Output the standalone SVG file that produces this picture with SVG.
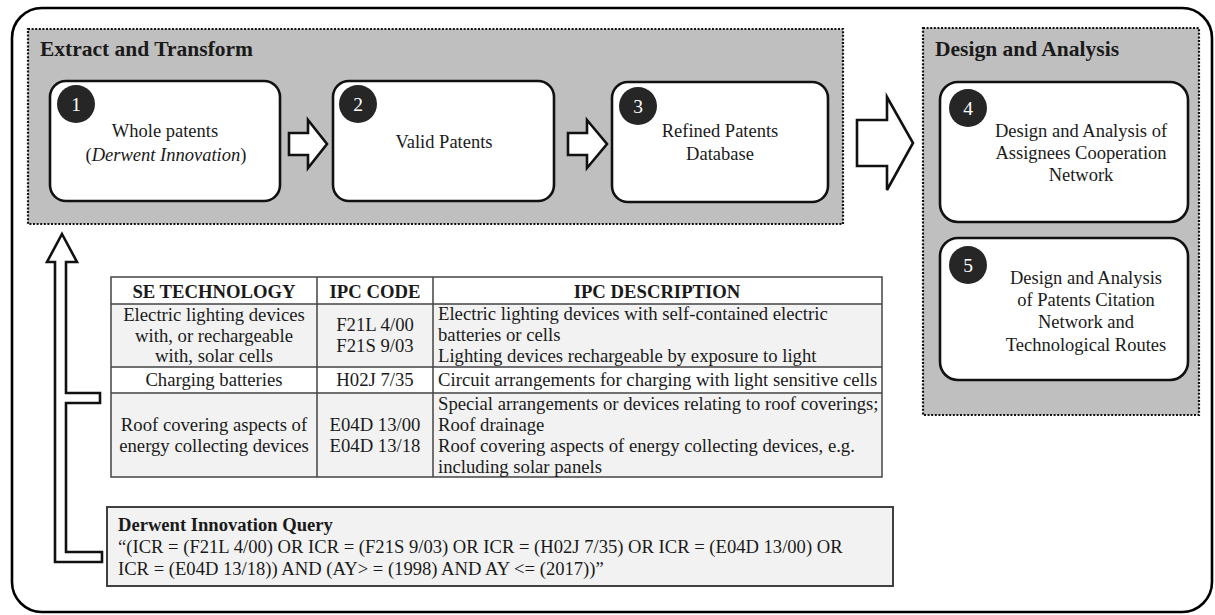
<svg xmlns="http://www.w3.org/2000/svg" width="1215" height="615" viewBox="0 0 1215 615">
<defs>
<style>
text{font-family:"Liberation Serif","Times New Roman",serif;fill:#1a1a1a}
.t{font-size:18.5px;text-anchor:middle}
.b{font-weight:bold}
.h{font-size:21.5px;font-weight:bold}
.grp{fill:#bfbfbf;stroke:#111;stroke-width:2.2;stroke-dasharray:2 1.6}
.box{fill:#fff;stroke:#111;stroke-width:2.6}
.num{fill:#262626}
.nt{font-size:19.5px;text-anchor:middle;fill:#fff}
.arr{fill:#fff;stroke:#111;stroke-width:2.6;stroke-linejoin:miter}
.tb{font-size:18.7px}
.c{text-anchor:middle}
.cell{stroke:none}
.tl{stroke:#444;stroke-width:1.5;fill:none}
.q{font-size:18.6px}
</style>
</defs>
<rect x="12" y="8" width="1200" height="604" rx="30" fill="#fff" stroke="#000" stroke-width="2.6"/>

<g id="extract-transform">
<rect class="grp" x="28" y="29" width="815" height="195"/>
<text class="h" x="40" y="56">Extract and Transform</text>
</g>

<g id="design-analysis">
<rect class="grp" x="923" y="28" width="276" height="387"/>
<text class="h" x="935" y="56">Design and Analysis</text>
</g>

<g id="node1">
<rect class="box" x="50" y="81" width="230" height="120" rx="16"/>
<circle class="num" cx="76" cy="104" r="19"/>
<text class="nt" x="76" y="111">1</text>
<text class="t" x="165" y="137">Whole  patents</text>
<text class="t" x="166" y="161">(<tspan font-style="italic">Derwent Innovation</tspan>)</text>
</g>

<g id="node2">
<rect class="box" x="333" y="81" width="221" height="120" rx="16"/>
<circle class="num" cx="358" cy="104" r="19"/>
<text class="nt" x="358" y="111">2</text>
<text class="t" x="444" y="148">Valid Patents</text>
</g>

<g id="node3">
<rect class="box" x="612" y="82" width="216" height="120" rx="16"/>
<circle class="num" cx="638" cy="106" r="19"/>
<text class="nt" x="638" y="113">3</text>
<text class="t" x="720" y="137">Refined Patents</text>
<text class="t" x="720" y="160">Database</text>
</g>

<g id="node4">
<rect class="box" x="940" y="82" width="248" height="140" rx="18"/>
<circle class="num" cx="968" cy="108" r="19"/>
<text class="nt" x="968" y="115">4</text>
<text class="t" x="1081" y="137">Design and Analysis of</text>
<text class="t" x="1081" y="159">Assignees Cooperation</text>
<text class="t" x="1081" y="181">Network</text>
</g>

<g id="node5">
<rect class="box" x="940" y="238" width="248" height="142" rx="18"/>
<circle class="num" cx="968" cy="265" r="19"/>
<text class="nt" x="968" y="272">5</text>
<text class="t" x="1086" y="284">Design and Analysis</text>
<text class="t" x="1086" y="306">of Patents Citation</text>
<text class="t" x="1086" y="328">Network and</text>
<text class="t" x="1086" y="351">Technological  Routes</text>
</g>

<g id="ipc-table">
<rect class="cell" x="111" y="277" width="771" height="27" fill="#fff"/>
<rect class="cell" x="111" y="304" width="771" height="63" fill="#f2f2f2"/>
<rect class="cell" x="111" y="367" width="771" height="26" fill="#fff"/>
<rect class="cell" x="111" y="393" width="771" height="84" fill="#f2f2f2"/>
<rect class="tl" x="111" y="277" width="771" height="200"/>
<path class="tl" d="M111 304H882M111 367H882M111 393H882M317 277V477M433 277V477"/>
<g class="tb">
<text class="c b" x="214" y="298">SE TECHNOLOGY</text>
<text class="c b" x="375" y="298">IPC CODE</text>
<text class="c b" x="657" y="298">IPC DESCRIPTION</text>
<text class="c" x="214" y="321">Electric lighting devices</text>
<text class="c" x="214" y="342">with, or rechargeable</text>
<text class="c" x="214" y="362">with, solar cells</text>
<text class="c" x="375" y="331">F21L 4/00</text>
<text class="c" x="375" y="352">F21S 9/03</text>
<text x="438" y="320">Electric lighting devices with self-contained electric</text>
<text x="438" y="341">batteries or cells</text>
<text x="438" y="362">Lighting devices rechargeable by exposure to light</text>
<text class="c" x="214" y="386">Charging batteries</text>
<text class="c" x="375" y="386">H02J 7/35</text>
<text x="438" y="386">Circuit arrangements for charging with light sensitive cells</text>
<text class="c" x="214" y="431">Roof covering aspects of</text>
<text class="c" x="214" y="452">energy collecting devices</text>
<text class="c" x="375" y="431">E04D 13/00</text>
<text class="c" x="375" y="452">E04D 13/18</text>
<text x="438" y="410">Special arrangements or devices relating to roof coverings;</text>
<text x="438" y="431">Roof drainage</text>
<text x="438" y="452">Roof covering aspects of energy collecting devices, e.g.</text>
<text x="438" y="473">including solar panels</text>
</g>
</g>

<g id="query">
<rect x="107" y="507" width="786" height="79" fill="#f2f2f2" stroke="#404040" stroke-width="2"/>
<text class="q b" x="118" y="531">Derwent Innovation Query</text>
<text class="q" x="118" y="553">“(ICR = (F21L 4/00) OR ICR = (F21S 9/03) OR ICR = (H02J 7/35) OR ICR = (E04D 13/00) OR</text>
<text class="q" x="118" y="575">ICR = (E04D 13/18)) AND (AY&gt; = (1998) AND AY &lt;= (2017))”</text>
</g>

<g id="connectors">
<polygon class="arr" points="289,133 308,133 308,120 327,144 308,168 308,155 289,155"/>
<polygon class="arr" points="568,133 587,133 587,120 607,144 587,168 587,155 568,155"/>
<polygon class="arr" points="857,120 887,120 887,97 913,143 887,190 887,166 857,166"/>
<polygon class="arr" points="62,234 77,262 66,262 66,393 100,393 100,403 66,403 66,552 102,552 102,562 55,562 55,262 47,262"/>
</g>
</svg>
